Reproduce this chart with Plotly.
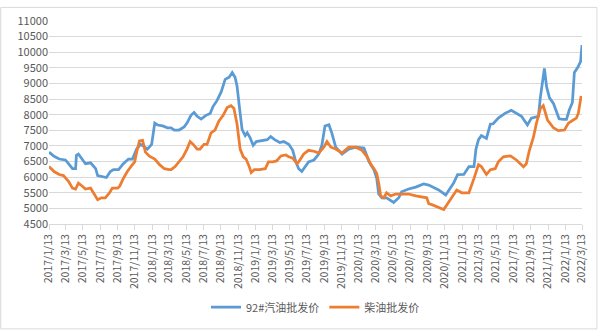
import plotly.graph_objects as go

gas_dates = ["2017-01-13","2017-01-31","2017-02-18","2017-03-12","2017-03-23","2017-04-06","2017-04-17","2017-04-20","2017-04-27","2017-05-11",
"2017-05-22","2017-06-09","2017-06-27","2017-07-04","2017-07-25","2017-08-04","2017-08-18","2017-08-29","2017-09-16","2017-10-03",
"2017-10-21","2017-11-04","2017-11-19","2017-12-03","2017-12-10","2017-12-27","2018-01-11","2018-01-22","2018-02-01","2018-02-19",
"2018-03-08","2018-03-21","2018-04-01","2018-04-18","2018-05-06","2018-05-16","2018-05-30","2018-06-10","2018-06-21","2018-07-05",
"2018-07-22","2018-08-06","2018-08-16","2018-08-30","2018-09-14","2018-09-28","2018-10-12","2018-10-23","2018-11-02","2018-11-09",
"2018-11-20","2018-11-27","2018-12-08","2018-12-15","2018-12-25","2019-01-05","2019-01-16","2019-02-03","2019-02-24","2019-03-08",
"2019-03-22","2019-04-09","2019-04-23","2019-05-11","2019-05-25","2019-06-05","2019-06-15","2019-06-26","2019-07-10","2019-07-20",
"2019-08-08","2019-08-25","2019-09-05","2019-09-16","2019-09-30","2019-10-10","2019-10-24","2019-11-15","2019-12-09","2020-01-03",
"2020-02-01","2020-02-19","2020-03-07","2020-03-17","2020-03-24","2020-04-04","2020-04-21","2020-05-16","2020-06-03","2020-06-13",
"2020-07-08","2020-08-02","2020-08-30","2020-09-17","2020-10-22","2020-11-16","2020-12-14","2020-12-28","2021-01-19","2021-02-06",
"2021-02-24","2021-03-03","2021-03-12","2021-03-22","2021-04-09","2021-04-23","2021-05-03","2021-05-21","2021-06-15","2021-07-06",
"2021-08-11","2021-09-01","2021-09-15","2021-10-10","2021-10-17","2021-10-24","2021-10-31","2021-11-08","2021-11-18","2021-12-02",
"2021-12-12","2021-12-22","2022-01-06","2022-01-17","2022-01-27","2022-02-07","2022-02-14","2022-02-25","2022-03-08","2022-03-13"]
gas_values = [6800,6670,6580,6550,6430,6270,6270,6700,6740,6580,
6430,6460,6270,6050,6020,5990,6180,6240,6240,6430,
6580,6580,6900,7050,7010,6900,7050,7730,7670,7640,
7580,7580,7510,7510,7610,7730,7980,8070,7950,7860,
7980,8040,8260,8450,8730,9130,9200,9350,9200,8920,
8040,7520,7330,7420,7270,7020,7140,7170,7200,7300,
7200,7110,7140,7050,6860,6490,6270,6180,6340,6490,
6550,6740,7020,7640,7680,7420,6960,6740,6900,6960,
6930,6490,6240,5960,5460,5340,5340,5190,5340,5530,
5620,5680,5780,5745,5590,5430,5810,6080,6085,6335,
6335,6900,7200,7330,7240,7700,7710,7890,8050,8140,
7950,7670,7890,7950,8570,9070,9480,8880,8540,8360,
8140,7870,7850,7850,8150,8390,9350,9500,9700,10230]

diesel_dates = ["2017-01-13","2017-01-31","2017-02-18","2017-03-05","2017-03-23","2017-04-06","2017-04-17","2017-04-27","2017-05-11","2017-05-22",
"2017-06-09","2017-06-19","2017-06-27","2017-07-04","2017-07-17","2017-07-31","2017-08-15","2017-08-25","2017-09-13","2017-09-20",
"2017-10-03","2017-10-17","2017-11-04","2017-11-12","2017-11-19","2017-11-29","2017-12-10","2017-12-20","2018-01-03","2018-01-22",
"2018-02-08","2018-02-25","2018-03-14","2018-03-21","2018-04-04","2018-04-18","2018-05-02","2018-05-16","2018-05-27","2018-06-07",
"2018-06-21","2018-07-01","2018-07-15","2018-07-26","2018-08-09","2018-08-23","2018-09-06","2018-09-21","2018-10-05","2018-10-19",
"2018-10-29","2018-11-09","2018-11-20","2018-12-01","2018-12-11","2018-12-22","2018-12-29","2019-01-09","2019-01-27","2019-02-17",
"2019-02-28","2019-03-15","2019-03-29","2019-04-13","2019-05-01","2019-05-11","2019-05-25","2019-06-09","2019-06-15","2019-07-03",
"2019-07-20","2019-08-08","2019-08-25","2019-09-12","2019-09-23","2019-10-07","2019-10-24","2019-11-15","2019-12-09","2020-01-03",
"2020-01-25","2020-02-12","2020-02-26","2020-03-07","2020-03-17","2020-03-24","2020-03-31","2020-04-11","2020-04-21","2020-05-05",
"2020-05-23","2020-06-13","2020-07-08","2020-08-02","2020-08-23","2020-09-10","2020-09-17","2020-09-28","2020-11-09","2020-12-07",
"2020-12-25","2021-01-12","2021-02-06","2021-02-24","2021-03-12","2021-03-22","2021-04-09","2021-04-23","2021-05-10","2021-05-21",
"2021-06-08","2021-07-03","2021-07-24","2021-08-18","2021-08-28","2021-09-08","2021-09-22","2021-10-03","2021-10-17","2021-10-27",
"2021-11-11","2021-12-02","2021-12-19","2022-01-10","2022-01-24","2022-02-10","2022-02-21","2022-02-28","2022-03-10"]
diesel_values = [6340,6180,6085,6050,5870,5650,5620,5810,5710,5620,
5650,5500,5400,5280,5340,5340,5500,5650,5650,5710,
5960,6180,6400,6490,6800,7160,7180,6800,6670,6580,
6400,6270,6240,6240,6340,6490,6650,6900,7140,7050,
6900,6900,7050,7050,7420,7510,7800,7980,8230,8290,
8200,7700,6900,6650,6580,6340,6150,6240,6240,6270,
6490,6490,6520,6680,6710,6650,6610,6430,6490,6740,
6860,6830,6770,6960,7140,6960,6900,6770,6960,6960,
6860,6650,6400,6280,6120,5810,5400,5340,5500,5400,
5460,5460,5460,5400,5370,5340,5150,5120,4965,5340,
5590,5500,5500,5960,6400,6340,6085,6240,6270,6490,
6650,6680,6550,6330,6430,6860,7270,7730,8200,8290,
7830,7580,7490,7510,7730,7830,7890,8040,8600]

tick_dates = ["2017-01-13","2017-03-13","2017-05-13","2017-07-13","2017-09-13","2017-11-13",
"2018-01-13","2018-03-13","2018-05-13","2018-07-13","2018-09-13","2018-11-13",
"2019-01-13","2019-03-13","2019-05-13","2019-07-13","2019-09-13","2019-11-13",
"2020-01-13","2020-03-13","2020-05-13","2020-07-13","2020-09-13","2020-11-13",
"2021-01-13","2021-03-13","2021-05-13","2021-07-13","2021-09-13","2021-11-13",
"2022-01-13","2022-03-13"]
tick_labels = [d[:4] + "/" + str(int(d[5:7])) + "/" + str(int(d[8:10])) for d in tick_dates]

series_names = ["92#汽油批发价", "柴油批发价"]
colors = ["#5B9BD5", "#ED7D31"]

fig = go.Figure()
fig.add_trace(go.Scatter(x=gas_dates, y=gas_values, mode="lines", name=series_names[0],
                         line=dict(color=colors[0], width=2.75)))
fig.add_trace(go.Scatter(x=diesel_dates, y=diesel_values, mode="lines", name=series_names[1],
                         line=dict(color=colors[1], width=2.75)))

font_family = "Noto Sans CJK SC, Noto Sans, sans-serif"
fig.update_layout(
    width=600, height=333,
    margin=dict(l=49, r=16, t=15, b=109),
    paper_bgcolor="white", plot_bgcolor="white",
    font=dict(family=font_family, size=11, color="#595959"),
    showlegend=True,
    legend=dict(orientation="h", x=0.5, xanchor="center", y=-0.41, yanchor="middle",
                font=dict(size=11, color="#595959"), itemwidth=30),
    xaxis=dict(type="date", range=["2017-01-13", "2022-03-13"],
               tickmode="array", tickvals=tick_dates, ticktext=tick_labels,
               tickangle=-90, showgrid=False, showline=True, linecolor="#d9d9d9",
               ticks="outside", ticklen=5, tickcolor="#d9d9d9",
               tickfont=dict(size=10.5, color="#595959"), zeroline=False),
    yaxis=dict(range=[4500, 11000], dtick=500, tick0=4500, tickformat="d", showgrid=True,
               gridcolor="#d9d9d9", gridwidth=1, zeroline=False, showline=False,
               tickfont=dict(size=11, color="#595959"), ticks=""),
)
fig.add_shape(type="rect", xref="paper", yref="paper",
              x0=-49/535 + 0.001, x1=1 + 15/535, y0=-108/209, y1=1 + 14/209,
              line=dict(color="#d9d9d9", width=1), fillcolor="rgba(0,0,0,0)", layer="below")

fig.write_html("out.html")
